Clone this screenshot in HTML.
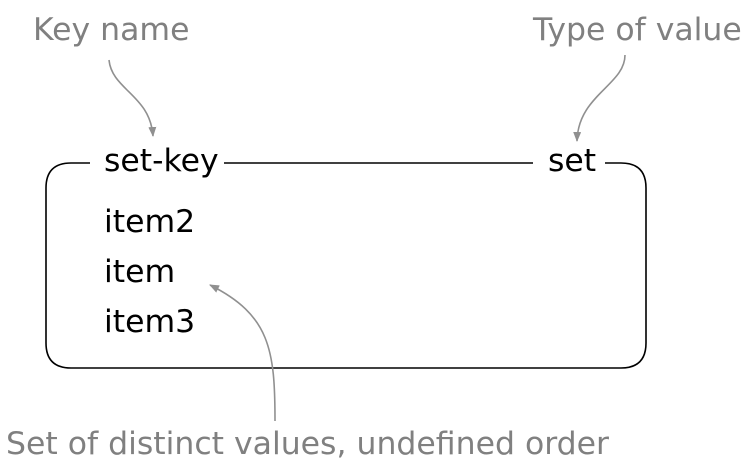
<!DOCTYPE html>
<html><head><meta charset="utf-8"><style>
html,body{margin:0;padding:0;background:#fff;}
svg{display:block;}
</style></head><body>
<svg width="751" height="459" viewBox="0 0 751 459" font-family="DejaVu Sans, Liberation Sans, sans-serif" font-size="31.5">
<defs>
<marker id="ah" markerWidth="10" markerHeight="8" refX="9" refY="4" orient="auto" markerUnits="userSpaceOnUse">
<path d="M0,0 L10,4 L0,8 Z" fill="#909090"/>
</marker>
</defs>
<g>
<path d="M90,163 L71,163 Q46,163 46,188 L46,343 Q46,368 71,368 L621,368 Q646,368 646,343 L646,188 Q646,163 621,163 L605,163" fill="none" stroke="#000" stroke-width="1.6"/>
<line x1="224" y1="163" x2="533" y2="163" stroke="#000" stroke-width="1.6"/>
</g>
<text x="104" y="171" font-size="31.5" fill="#000">set-key</text>
<text x="548" y="171" font-size="31.5" fill="#000">set</text>
<text x="104" y="232" font-size="31.5" fill="#000">item2</text>
<text x="104" y="282" font-size="31.5" fill="#000">item</text>
<text x="104" y="332" font-size="31.5" fill="#000">item3</text>
<text x="33" y="40" font-size="31.5" fill="#808080">Key name</text>
<text x="533" y="40" font-size="31.5" fill="#808080">Type of value</text>
<text x="6" y="454" font-size="31.5" fill="#808080">Set of distinct values, undefined order</text>
<path d="M109,60 C112,90 150,95 153,136" fill="none" stroke="#909090" stroke-width="1.6" marker-end="url(#ah)"/>
<path d="M625,55 C625,85 578,95 577,141" fill="none" stroke="#909090" stroke-width="1.6" marker-end="url(#ah)"/>
<path d="M275,421 C275,350 270,315 210,285" fill="none" stroke="#909090" stroke-width="1.6" marker-end="url(#ah)"/>
</svg>
</body></html>
